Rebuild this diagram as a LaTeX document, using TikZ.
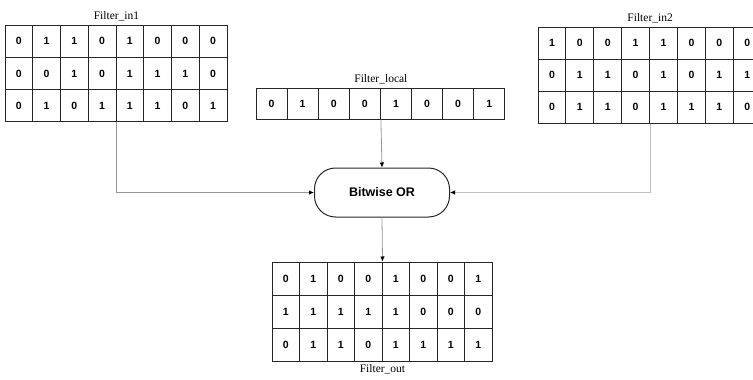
\documentclass[tikz,border=0pt]{standalone}
\usepackage{fontspec}
\setmainfont{Liberation Serif}
\setsansfont{Liberation Sans}
\usepackage{xcolor}
\usepackage{tikz}
\usetikzlibrary{arrows.meta, positioning}

\definecolor{wiregray}{RGB}{150,150,150}

\tikzset{
  bitcell/.style={draw=black!85, line width=1pt, inner sep=0pt,
    font=\sffamily\bfseries\fontsize{10.5}{12}\selectfont},
  gridlabel/.style={font=\fontsize{11.5}{13}\selectfont, inner sep=1pt},
  orbox/.style={draw=black!85, line width=1pt, rounded corners=21pt,
    minimum width=135pt, minimum height=49pt,
    font=\sffamily\bfseries\fontsize{12.5}{14}\selectfont},
  wire/.style={draw=wiregray, line width=0.8pt,
    -{Latex[length=5pt,width=4.5pt,black]}},
}

% #1 name, #2/#3 top-left corner, #4/#5 cell size, #6 rows of bits
\newcommand\bitgrid[6]{%
  \foreach \bits [count=\r] in {#6}
    \foreach \b [count=\c] in \bits
      \node[bitcell, minimum width=#4pt, minimum height=#5pt]
        (#1-\r-\c) at ({#2+(\c-0.5)*#4}, {#3+(\r-0.5)*#5}) {\b};
}

\begin{document}
\begin{tikzpicture}[x=1pt, y=-1pt]
  \useasboundingbox (0,0) rectangle (753,380);

  % input filters
  \bitgrid{in1}{5}{25}{27.75}{32.3}{{0,1,1,0,1,0,0,0},{0,0,1,0,1,1,1,0},{0,1,0,1,1,1,0,1}}
  \bitgrid{in2}{538}{27}{27.9}{32}{{1,0,0,1,1,0,0,0},{0,1,1,0,1,0,1,1},{0,1,1,0,1,1,1,0}}
  \bitgrid{local}{256}{88}{31.1}{31}{{0,1,0,0,1,0,0,1}}
  % result
  \bitgrid{out}{272}{262}{27.5}{33}{{0,1,0,0,1,0,0,1},{1,1,1,1,1,0,0,0},{0,1,1,0,1,1,1,1}}

  \node[gridlabel, above=2pt] (in1lbl) at (in1-1-4.north east) {Filter\_in1};
  \node[gridlabel, above=2pt] (in2lbl) at (in2-1-4.north east) {Filter\_in2};
  \node[gridlabel, above=2pt] (locallbl) at (local-1-4.north east) {Filter\_local};
  \node[gridlabel, below=2pt] (outlbl) at (out-3-4.south east) {Filter\_out};

  \node[orbox] (or) at (382,192.5) {Bitwise OR};

  \draw[wire] (in1-3-4.south east) |- (or.west);
  \draw[wire, draw=wiregray!60] (in2-3-4.south east) |- (or.east);
  \draw[wire] (local-1-4.south east) -- (or.north);
  \draw[wire] (or.south) -- (out-1-4.north east);
\end{tikzpicture}
\end{document}
